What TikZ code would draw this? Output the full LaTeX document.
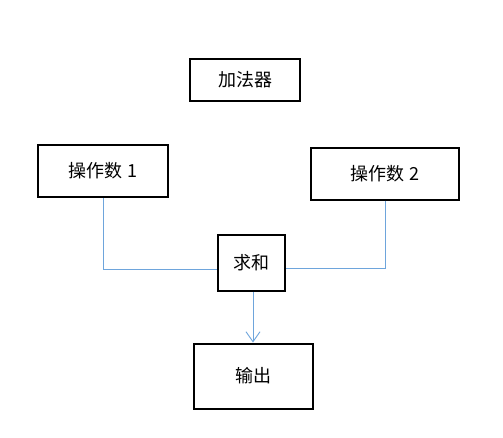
\documentclass[tikz,border=0pt]{standalone}
\usepackage{fontspec}
\setmainfont{Noto Sans CJK SC}
\usetikzlibrary{positioning,arrows.meta}
\definecolor{linkblue}{RGB}{110,165,220}

\tikzset{
  box/.style={draw=black, line width=2pt, fill=white, inner sep=0pt, font=\fontsize{18}{21}\selectfont},
  link/.style={draw=linkblue, line width=0.9pt},
}

\begin{document}
\begin{tikzpicture}[x=1pt, y=-1pt]
\useasboundingbox (0,0) rectangle (503,437);
% blocks
\node[box, minimum width=110pt, minimum height=42pt] (adder) at (245,80) {加法器};
\node[box, minimum width=130pt, minimum height=52pt] (opA) at (103,171) {操作数 1};
\node[box, minimum width=148pt, minimum height=52pt] (opB) at (385,173.5) {操作数 2};
\node[box, minimum width=67pt, minimum height=56pt] (sum) at (251,263) {求和};
\node[box, minimum width=119pt, minimum height=65pt] (out) at (253,376) {输出};
% connectors
\draw[link] (opA.south) |- ([yshift=-6pt]sum.west);
\draw[link] (opB.south) |- ([yshift=-5pt]sum.east);
\draw[link, -{Straight Barb[length=10pt, width=14pt]}] ([xshift=2pt]sum.south) -- ([xshift=0pt]out.north);
\end{tikzpicture}
\end{document}
